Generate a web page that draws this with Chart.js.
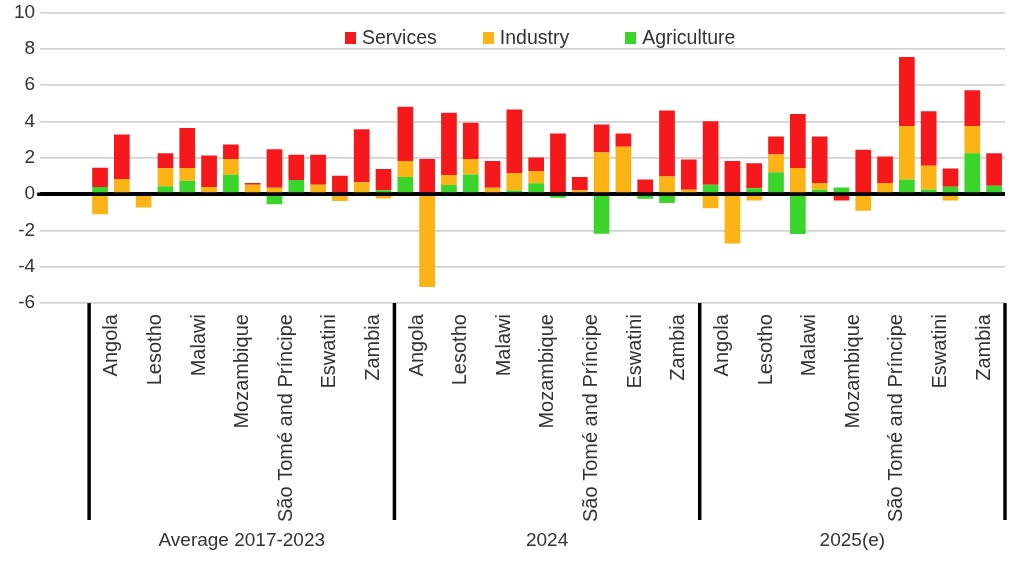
<!DOCTYPE html>
<html>
<head>
<meta charset="utf-8">
<script src="https://cdn.jsdelivr.net/npm/chart.js@4"></script>
<style>
  body { margin: 0; background: #fff; }
  #wrap { position: relative; width: 1024px; height: 561px; }
  #chart { display: block; }
  #legend { position: absolute; top: 26px; left: 345px; display: flex; font: 19.5px "Liberation Sans", Arial, sans-serif; color: #333; }
  #legend .item { display: flex; align-items: center; margin-right: 46px; }
  #legend .item:nth-child(2) { margin-right: 56px; }
  #legend .box { width: 11px; height: 12px; margin-right: 6px; }
</style>
</head>
<body>
<div id="wrap">
  <canvas id="chart"></canvas>
  <div id="legend"></div>
</div>
<script>
// countries per period (only every other one is labelled on the axis)
const countries = ["South Africa", "Angola", "Botswana", "Lesotho", "Madagascar", "Malawi", "Mauritius",
  "Mozambique", "Namibia", "São Tomé and Príncipe", "Seychelles", "Eswatini", "Tanzania", "Zambia"];
const periods = ["Average 2017-2023", "2024", "2025(e)"];

// contributions in p.p. : avg 2017-2023 | 2024 | 2025(e)
const agriculture = [
  0.4, 0, 0, 0.43, 0.74, 0, 1.07, 0, -0.56, 0.78, 0, 0, -0.1, 0.22,
  0.95, 0, 0.5, 1.08, 0, 0.2, 0.6, -0.2, 0, -2.18, 0, -0.25, -0.48, 0,
  0.52, 0, 0.33, 1.2, -2.19, 0.24, 0.37, 0, 0, 0.81, 0.26, 0.41, 2.26, 0.46
];
const industry = [
  -1.1, 0.83, -0.74, 1.0, 0.7, 0.4, 0.87, 0.52, 0.35, 0, 0.52, -0.37, 0.65, -0.24,
  0.87, -5.12, 0.55, 0.85, 0.35, 0.97, 0.68, 0, 0.22, 2.29, 2.61, 0, 0.97, 0.24,
  -0.78, -2.72, -0.35, 0.99, 1.44, 0.37, 0, -0.91, 0.61, 2.95, 1.31, -0.35, 1.5, 0
];
const services = [
  1.05, 2.45, 0, 0.82, 2.21, 1.73, 0.8, 0.09, 2.13, 1.39, 1.65, 1.02, 2.92, 1.17,
  2.99, 1.94, 3.43, 2.01, 1.47, 3.49, 0.74, 3.34, 0.72, 1.54, 0.73, 0.81, 3.64, 1.67,
  3.5, 1.83, 1.37, 0.98, 2.97, 2.56, -0.35, 2.44, 1.46, 3.8, 2.99, 1.0, 1.96, 1.8
];
const yTicks = [-6, -4, -2, 0, 2, 4, 6, 8, 10];

const labels = [];
periods.forEach(() => countries.forEach(c => labels.push(c)));

const FAMILY = "'Liberation Sans', Arial, sans-serif";
const TXT = "#333";

// group separators + zero line on top of the bars
const groupLines = {
  id: "groupLines",
  afterDatasetsDraw(chart) {
    const { ctx, scales: { x, y }, chartArea } = chart;
    ctx.save();
    ctx.strokeStyle = "#000";
    ctx.lineWidth = 3.5;
    const y0 = y.getPixelForValue(0);
    ctx.beginPath();
    ctx.moveTo(y.right - y.options.grid.tickLength - 3, y0);
    ctx.lineTo(chartArea.right, y0);
    ctx.stroke();
    const step = (x.right - x.left) / labels.length;
    for (let g = 0; g <= periods.length; g++) {
      const px = x.left + g * countries.length * step;
      ctx.beginPath();
      ctx.moveTo(px, x.top);
      ctx.lineTo(px, x.bottom - 2);
      ctx.stroke();
    }
    ctx.restore();
  }
};

const chart = new Chart(document.getElementById("chart"), {
  type: "bar",
  data: {
    labels: labels,
    datasets: [
      { label: "Agriculture", data: agriculture, backgroundColor: "#3ad42b" },
      { label: "Industry", data: industry, backgroundColor: "#fcb316" },
      { label: "Services", data: services, backgroundColor: "#f5191c" }
    ]
  },
  options: {
    responsive: true,
    maintainAspectRatio: false,
    animation: false,
    datasets: { bar: { barPercentage: 0.72, categoryPercentage: 1.0 } },
    layout: { padding: { left: 9, right: 19, top: 0, bottom: 1 } },
    plugins: { legend: { display: false }, tooltip: { enabled: false } },
    scales: {
      x: {
        stacked: true,
        offset: true,
        weight: 0,
        grid: { display: true, drawOnChartArea: false, drawTicks: true, tickLength: 11, color: "rgba(0,0,0,0)" },
        border: { display: false },
        ticks: {
          autoSkip: false, minRotation: 90, maxRotation: 90, padding: 0, labelOffset: -10,
          font: { family: FAMILY, size: 20 }, color: TXT,
          callback: (v, i) => (i % 2 === 1 ? labels[i] : "")
        }
      },
      group: {
        type: "category",
        labels: periods,
        position: "bottom",
        offset: true,
        weight: 1,
        grid: { display: false, drawTicks: false },
        border: { display: false },
        ticks: { autoSkip: false, maxRotation: 0, padding: 9.5, font: { family: FAMILY, size: 19, lineHeight: 1 }, color: TXT }
      },
      y: {
        stacked: true,
        min: yTicks[0],
        max: yTicks[yTicks.length - 1],
        afterBuildTicks: s => { s.ticks = yTicks.map(v => ({ value: v })); },
        border: { display: false },
        grid: {
          color: c => (c.tick && c.tick.value === 0 ? "#000" : "#d3d3d3"),
          lineWidth: c => (c.tick && c.tick.value === 0 ? 3.5 : 1.8),
          tickLength: 49
        },
        ticks: { padding: 5, font: { family: FAMILY, size: 19, lineHeight: 0.8 }, color: TXT }
      }
    }
  },
  plugins: [groupLines]
});

// legend (Services, Industry, Agriculture)
const leg = document.getElementById("legend");
chart.data.datasets.slice().reverse().forEach(ds => {
  const item = document.createElement("div");
  item.className = "item";
  item.innerHTML = `<span class="box" style="background:${ds.backgroundColor}"></span>${ds.label}`;
  leg.appendChild(item);
});
</script>
</body>
</html>
